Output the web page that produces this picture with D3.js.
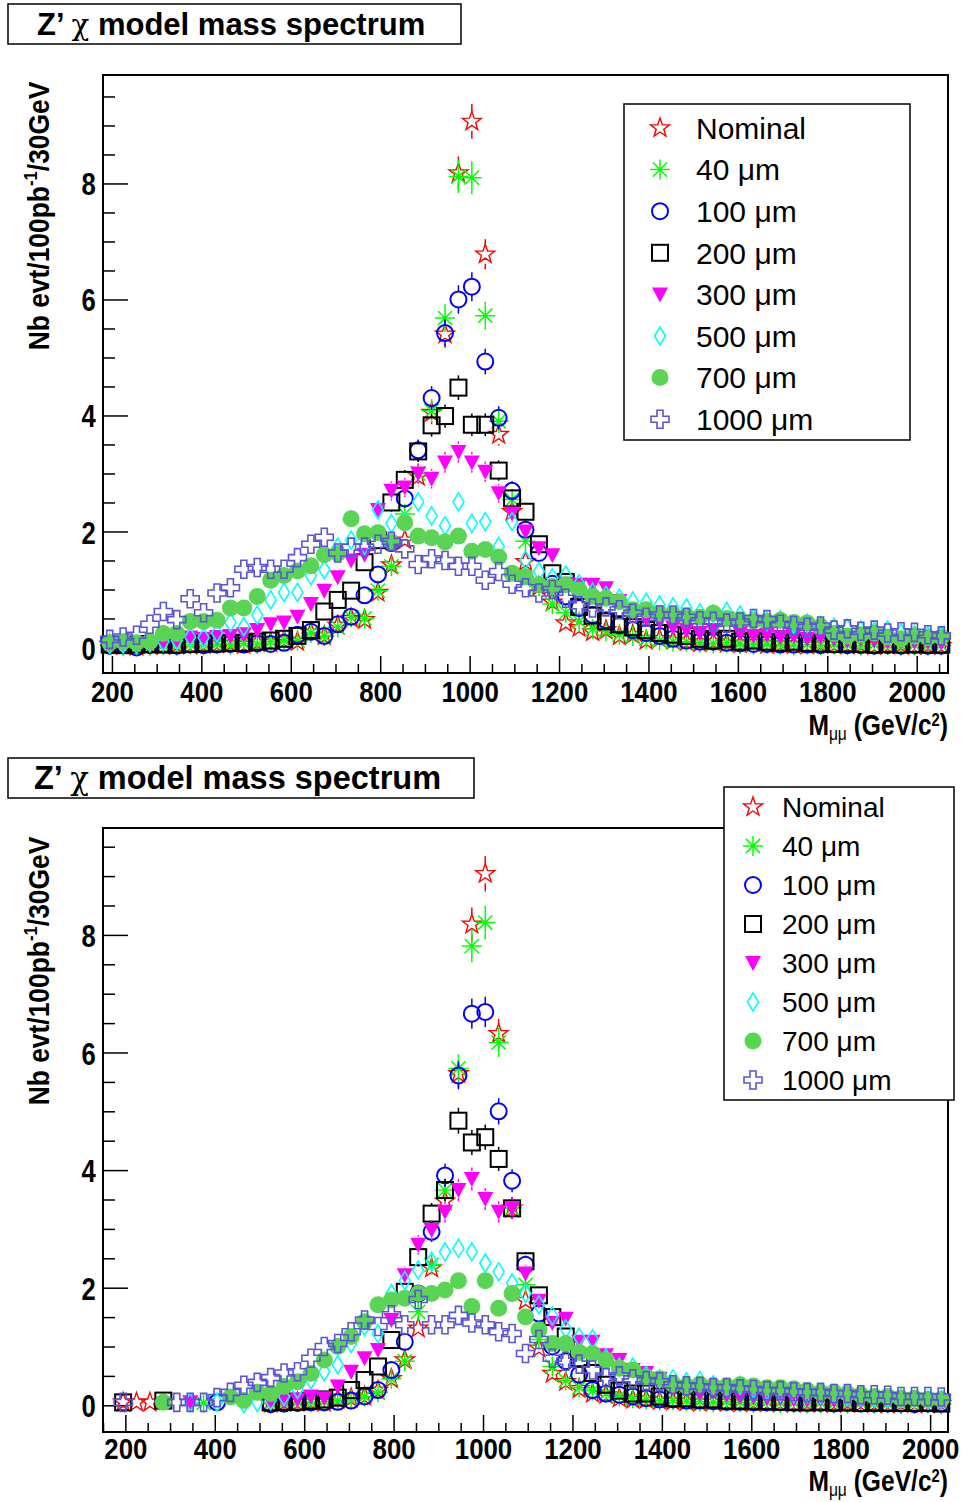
<!DOCTYPE html>
<html><head><meta charset="utf-8">
<script src="https://cdn.jsdelivr.net/npm/d3@7"></script>
<style>
body{margin:0;background:#fff;}
svg{display:block;font-family:"Liberation Sans",Arial,Helvetica,sans-serif;}
</style></head><body>
<svg id="c" width="964" height="1502"></svg>
<script>
// ---------------- DATA ----------------
const seriesNames = ["Nominal","40 \u03bcm","100 \u03bcm","200 \u03bcm","300 \u03bcm","500 \u03bcm","700 \u03bcm","1000 \u03bcm"];
const binWidth = 30;               // GeV
const topFirstBinCenter = 195;     // GeV
const bottomFirstBinCenter = 165;  // GeV
const xMajorTicks = [200,400,600,800,1000,1200,1400,1600,1800,2000];
const yMajorTicks = [0,2,4,6,8];
const eventWeight = 0.01;          // events -> Nb evt/100pb-1 (for Poisson error bars)

// Upper panel: bins of 30 GeV starting at 195 GeV
const topNominal = [0.05,0.03,0.02,0.04,0.03,0.05,0.04,0.05,0.06,0.07, 0.05,0.09,0.08,0.12,0.10,0.26,0.20,0.38,0.50,0.48, 0.95,1.42,1.85,2.95,4.05,5.40,8.18,9.07,6.78,3.67, 2.34,1.48,1.05,0.78,0.42,0.34,0.27,0.30,0.20,0.22, 0.12,0.15,0.12,0.10,0.08,0.10,0.07,0.06,0.08,0.05, 0.06,0.05,0.04,0.06,0.05,0.04,0.05,0.03,0.04,0.05, 0.03,0.04,0.03];
const top40um = [0.04,0.02,0.03,0.03,0.04,0.03,0.05,0.04,0.06,0.05, 0.07,0.06,0.10,0.12,0.12,0.25,0.20,0.35,0.52,0.50, 0.98,1.40,2.30,3.00,4.08,5.68,8.12,8.10,5.72,3.90, 2.55,1.83,1.05,0.75,0.60,0.45,0.32,0.28,0.22,0.20, 0.15,0.12,0.10,0.10,0.08,0.07,0.08,0.06,0.05,0.06, 0.05,0.04,0.05,0.04,0.05,0.04,0.03,0.05,0.04,0.03, 0.04,0.03,0.04];
const top100um = [0.03,0.05,0.00,0.04,0.05,0.03,0.05,0.04,0.05,0.06, 0.05,0.07,0.06,0.08,0.22,0.27,0.20,0.40,0.53,0.90, 1.26,1.80,2.57,3.40,4.30,5.42,6.00,6.22,4.93,3.96, 2.70,2.03,1.63,1.10,0.88,0.68,0.56,0.47,0.38,0.30, 0.25,0.20,0.15,0.12,0.10,0.10,0.08,0.07,0.06,0.06, 0.05,0.05,0.05,0.04,0.05,0.04,0.04,0.03,0.04,0.03, 0.04,0.03,0.03];
const top200um = [0.05,0.04,0.05,0.06,0.05,0.05,0.06,0.07,0.07,0.08, 0.08,0.10,0.12,0.15,0.20,0.30,0.62,0.82,0.98,1.47, 1.85,2.50,2.89,3.38,3.83,3.99,4.48,3.84,3.84,3.05, 2.57,2.34,1.78,1.28,1.13,0.70,0.55,0.45,0.40,0.35, 0.30,0.25,0.22,0.20,0.15,0.12,0.15,0.10,0.12,0.10, 0.08,0.10,0.08,0.07,0.06,0.07,0.06,0.05,0.06,0.05, 0.06,0.05,0.05];
const top300um = [0.03,0.05,0.05,0.06,0.08,0.12,0.17,0.15,0.18,0.20, 0.23,0.30,0.40,0.43,0.53,0.75,0.98,1.21,1.50,1.60, 2.37,2.70,2.76,3.00,2.91,3.19,3.37,3.19,3.03,2.66, 2.31,2.00,1.71,1.59,1.10,1.08,1.08,1.02,0.80,0.60, 0.50,0.45,0.35,0.30,0.25,0.30,0.50,0.25,0.20,0.22, 0.18,0.20,0.15,0.18,0.15,0.12,0.15,0.12,0.10,0.12, 0.10,0.10,0.08];
const top500um = [0.05,0.06,0.05,0.08,0.10,0.12,0.18,0.17,0.25,0.43, 0.36,0.56,0.82,0.95,0.95,1.24,1.34,1.73,1.85,1.76, 2.37,2.14,2.17,2.51,2.27,2.10,2.51,2.14,2.17,1.74, 2.17,1.51,1.31,1.20,1.25,1.10,0.95,0.90,0.85,0.80, 0.78,0.73,0.70,0.68,0.60,0.58,0.62,0.56,0.50,0.45, 0.48,0.40,0.42,0.38,0.35,0.33,0.30,0.28,0.30,0.25, 0.22,0.20,0.20];
const top700um = [0.08,0.10,0.08,0.10,0.24,0.24,0.45,0.45,0.47,0.68, 0.68,0.88,1.16,1.24,1.32,1.41,1.60,1.62,2.22,1.96, 1.98,1.82,2.15,1.92,1.89,1.82,1.92,1.66,1.69,1.56, 1.28,1.22,1.08,1.05,1.08,0.99,0.88,0.85,0.79,0.65, 0.65,0.59,0.57,0.54,0.52,0.59,0.50,0.48,0.46,0.45, 0.47,0.43,0.42,0.36,0.24,0.20,0.22,0.25,0.18,0.15, 0.20,0.17,0.18];
const top1000um = [0.14,0.18,0.21,0.40,0.62,0.48,0.84,0.60,0.94,1.03, 1.35,1.38,1.35,1.35,1.55,1.78,1.90,1.63,1.73,1.73, 1.78,1.83,1.70,1.43,1.53,1.50,1.40,1.40,1.16,1.31, 1.09,1.03,0.94,1.00,0.85,0.72,0.68,0.70,0.65,0.59, 0.52,0.56,0.56,0.52,0.46,0.45,0.42,0.44,0.50,0.48, 0.40,0.38,0.35,0.37,0.30,0.32,0.28,0.30,0.25,0.27, 0.26,0.22,0.20];

// Lower panel: bins of 30 GeV starting at 165 GeV (null = empty bin, not drawn)
const botNominal = [null,0.05,0.05,0.05,null,null,null,null,null,null, null,null,0.03,0.05,0.05,0.06,0.05,0.10,0.12,0.15, 0.25,0.45,0.77,1.31,2.33,3.47,5.64,8.18,9.04,6.32, 3.35,1.78,0.97,0.54,0.40,0.28,0.20,0.18,0.12,0.10, 0.10,0.08,0.07,0.06,0.05,0.06,0.05,0.04,0.05,0.04, 0.04,0.03,0.04,0.03,0.03,0.04,0.03,0.03,0.02,0.03, 0.03,0.02,0.03];
const bot40um = [null,null,null,null,null,null,null,0.04,null,null, null,null,0.03,0.04,0.05,0.05,0.06,0.08,0.10,0.15, 0.22,0.45,0.75,1.59,2.39,3.66,5.73,7.81,8.21,6.17, 3.35,2.05,1.12,0.66,0.42,0.30,0.25,0.20,0.15,0.12, 0.10,0.08,0.08,0.07,0.06,0.05,0.06,0.05,0.04,0.05, 0.04,0.04,0.03,0.04,0.03,0.03,0.04,0.03,0.03,0.02, 0.03,0.03,0.02];
const bot100um = [null,null,null,null,null,null,null,null,0.05,null, null,null,0.02,0.03,0.04,0.05,0.05,0.06,0.08,0.15, 0.26,0.60,1.08,1.90,2.95,3.91,5.61,6.66,6.69,5.00, 3.82,2.39,1.56,1.00,0.75,0.52,0.26,0.20,0.18,0.15, 0.12,0.10,0.10,0.08,0.08,0.07,0.06,0.06,0.05,0.05, 0.05,0.04,0.04,0.04,0.03,0.04,0.03,0.03,0.03,0.03, 0.02,0.03,0.03];
const bot200um = [null,0.05,null,null,0.08,null,null,null,null,null, null,null,0.05,0.06,0.06,0.08,0.10,0.13,0.26,0.43, 0.66,1.11,1.93,2.52,3.26,3.66,4.84,4.47,4.56,4.19, 3.35,2.45,1.87,1.50,1.17,0.80,0.55,0.35,0.25,0.20, 0.20,0.15,0.12,0.12,0.10,0.10,0.08,0.08,0.07,0.07, 0.06,0.06,0.05,0.06,0.05,0.05,0.04,0.05,0.04,0.04, 0.04,0.04,0.03];
const bot300um = [null,null,null,null,null,null,0.05,null,null,null, null,null,0.05,0.07,0.10,0.15,0.12,0.32,0.57,0.80, 0.94,1.45,2.21,2.73,2.98,3.29,3.66,3.85,3.51,3.29, 3.35,2.24,1.78,1.40,1.47,1.08,1.08,0.85,0.77,0.60, 0.55,0.45,0.30,0.28,0.20,0.22,0.18,0.15,0.15,0.12, 0.12,0.10,0.10,0.10,0.08,0.08,0.07,0.07,0.06,0.06, 0.05,0.05,0.05];
const bot500um = [null,null,null,null,null,null,0.05,null,0.05,null, 0.03,0.05,0.08,0.15,0.27,0.43,0.57,0.69,1.05,1.34, 1.22,1.90,2.12,2.30,2.45,2.61,2.67,2.61,2.42,2.27, 2.08,1.90,1.71,1.52,1.30,1.16,1.13,0.80,0.65,0.65, 0.51,0.45,0.45,0.40,0.42,0.35,0.30,0.34,0.28,0.25, 0.22,0.20,0.20,0.18,0.20,0.15,0.15,0.13,0.12,0.12, 0.10,0.10,0.10];
const bot700um = [null,null,null,null,0.05,null,null,null,null,0.14, 0.08,0.22,0.20,0.32,0.40,0.54,0.77,1.00,1.17,1.42, 1.71,1.79,1.82,1.90,1.90,1.96,2.12,1.68,2.12,1.65, 1.90,1.50,1.28,1.05,1.05,0.90,0.88,0.77,0.63,0.60, 0.48,0.45,0.36,0.33,0.36,0.33,0.33,0.35,0.33,0.30, 0.30,0.28,0.25,0.22,0.22,0.20,0.18,0.15,0.15,0.12, 0.12,0.10,0.10];
const bot1000um = [null,0.05,null,null,null,0.05,0.05,0.05,0.13,0.22, 0.34,0.39,0.47,0.55,0.57,0.80,1.00,1.05,1.25,1.45, 1.34,1.54,1.37,1.80,1.37,1.37,1.53,1.40,1.37,1.25, 1.22,0.88,1.12,0.80,0.75,0.70,0.60,0.47,0.50,0.45, 0.42,0.40,0.35,0.33,0.32,0.30,0.30,0.28,0.27,0.25, 0.25,0.23,0.22,0.22,0.20,0.20,0.18,0.18,0.17,0.15, 0.15,0.15,0.14];

const topSeries = [topNominal,top40um,top100um,top200um,top300um,top500um,top700um,top1000um];
const botSeries = [botNominal,bot40um,bot100um,bot200um,bot300um,bot500um,bot700um,bot1000um];

// ---------------- STYLE ----------------
const seriesColors = ["#ff0000","#00ff00","#0000ff","#000000","#ff00ff","#00ffff","#59d454","#5954d8"];
const seriesMarkers = ["openStar","asterisk","openCircle","openSquare","triangleDown","openDiamond","filledCircle","openCross"];
const markerHalf = {openStar:9.5,asterisk:10,openCircle:8,openSquare:8,triangleDown:8,openDiamond:9,filledCircle:8.5,openCross:9};

const panels = [
  {series: topSeries, first: topFirstBinCenter,
   frame:{x0:103,x1:948,y0:75,y1:673}, xDom:[180,2070], yDom:[-0.44,9.87],
   title:{x:8,y:4,w:453,h:40,tx:37,ty:35,fs:31},
   legend:{x:624,y:104,w:286,h:336,mx:660,tx:696,ry0:128,dy:41.6,fs:30},
   ylab:{x:49,y:216}, xlab:{x:948,y:735}, tickY:29},
  {series: botSeries, first: bottomFirstBinCenter,
   frame:{x0:103,x1:948,y0:828,y1:1432}, xDom:[150,2040], yDom:[-0.454,9.818],
   title:{x:8,y:758,w:466,h:40,tx:34,ty:789,fs:32.5},
   legend:{x:724,y:787,w:230,h:313,mx:753,tx:782,ry0:807,dy:39,fs:28},
   ylab:{x:49,y:971}, xlab:{x:948,y:1491}, tickY:27}
];

function starPath(R, r){
  const p=[];
  for(let k=0;k<10;k++){
    const a=-Math.PI/2 + k*Math.PI/5, rad = k%2===0?R:r;
    p.push((rad*Math.cos(a)).toFixed(2)+','+(rad*Math.sin(a)).toFixed(2));
  }
  return 'M'+p.join('L')+'Z';
}
function drawMarker(sel, type, color){
  switch(type){
    case 'openStar': sel.append('path').attr('d', starPath(10,4)).attr('fill','none').attr('stroke',color).attr('stroke-width',1.4); break;
    case 'asterisk': { const L=10, D=7.1; sel.append('path').attr('d',`M0,${-L}V${L}M${-L},0H${L}M${-D},${-D}L${D},${D}M${-D},${D}L${D},${-D}`).attr('stroke',color).attr('stroke-width',1.5).attr('fill','none'); break; }
    case 'openCircle': sel.append('circle').attr('r',8).attr('fill','none').attr('stroke',color).attr('stroke-width',2); break;
    case 'openSquare': sel.append('rect').attr('x',-8).attr('y',-8).attr('width',16).attr('height',16).attr('fill','none').attr('stroke',color).attr('stroke-width',2); break;
    case 'triangleDown': sel.append('path').attr('d','M-8,-7L8,-7L0,8Z').attr('fill',color); break;
    case 'openDiamond': sel.append('path').attr('d','M0,-9L5.5,0L0,9L-5.5,0Z').attr('fill','none').attr('stroke',color).attr('stroke-width',1.6); break;
    case 'filledCircle': sel.append('circle').attr('r',8.5).attr('fill',color); break;
    case 'openCross': { const a=3,b=9; sel.append('path').attr('d',`M${-a},${-b}H${a}V${-a}H${b}V${a}H${a}V${b}H${-a}V${a}H${-b}V${-a}H${-a}Z`).attr('fill','none').attr('stroke',color).attr('stroke-width',1.6); break; }
  }
}

const svg = d3.select('#c');
svg.append('rect').attr('width',964).attr('height',1502).attr('fill','#fff');

panels.forEach(p => {
  const f = p.frame;
  const x = d3.scaleLinear().domain(p.xDom).range([f.x0,f.x1]);
  const y = d3.scaleLinear().domain(p.yDom).range([f.y1,f.y0]);
  const g = svg.append('g');

  // title box
  g.append('rect').attr('x',p.title.x).attr('y',p.title.y).attr('width',p.title.w).attr('height',p.title.h)
    .attr('fill','#fff').attr('stroke','#000').attr('stroke-width',1.5);
  const tt = g.append('text').attr('x',p.title.tx).attr('y',p.title.ty).attr('font-size',p.title.fs).attr('font-weight','bold').attr('fill','#000');
  tt.append('tspan').text('Z\u2019 ');
  tt.append('tspan').attr('font-weight','normal').attr('font-family','"DejaVu Serif","Liberation Serif",serif').attr('font-size',p.title.fs*0.95).text('\u03c7');
  tt.append('tspan').text(' model mass spectrum');

  // axes (ticks inside frame)
  const xMinor = d3.range(Math.ceil(p.xDom[0]/50)*50, p.xDom[1], 50).filter(v=>v%200!==0);
  const yMinor = d3.range(0, p.yDom[1], 0.5).filter(v=>v%2!==0);
  const axX = g.append('g').attr('transform',`translate(0,${f.y1})`)
    .call(d3.axisBottom(x).tickValues(xMajorTicks).tickSize(-17).tickFormat(d3.format('d')));
  g.append('g').attr('transform',`translate(0,${f.y1})`)
    .call(d3.axisBottom(x).tickValues(xMinor).tickSize(-9).tickFormat(''));
  const axY = g.append('g').attr('transform',`translate(${f.x0},0)`)
    .call(d3.axisLeft(y).tickValues(yMajorTicks).tickSize(-25).tickFormat(d3.format('d')));
  g.append('g').attr('transform',`translate(${f.x0},0)`)
    .call(d3.axisLeft(y).tickValues(yMinor).tickSize(-12).tickFormat(''));
  g.selectAll('.domain').remove();
  g.selectAll('.tick line').attr('stroke','#000').attr('stroke-width',1.5);
  axX.selectAll('text').attr('y',p.tickY).attr('dy',0).attr('font-size',30).attr('font-weight','bold')
    .attr('font-family','"Liberation Sans",Arial,sans-serif').attr('fill','#000')
    .attr('transform','scale(0.86,1)');
  axY.selectAll('text').attr('x',-9).attr('dy','0.36em').attr('font-size',32).attr('font-weight','bold')
    .attr('font-family','"Liberation Sans",Arial,sans-serif').attr('fill','#000')
    .attr('transform','scale(0.8,1)');

  // frame
  g.append('rect').attr('x',f.x0).attr('y',f.y0).attr('width',f.x1-f.x0).attr('height',f.y1-f.y0)
    .attr('fill','none').attr('stroke','#000').attr('stroke-width',2);

  // axis titles
  const yl = g.append('g').attr('transform',`translate(${p.ylab.x},${p.ylab.y}) rotate(-90) scale(0.88,1)`);
  const ylt = yl.append('text').attr('text-anchor','middle').attr('font-size',30).attr('font-weight','bold').attr('fill','#000');
  ylt.append('tspan').text('Nb evt/100pb');
  ylt.append('tspan').attr('font-size',19).attr('dy',-12).text('-1');
  ylt.append('tspan').attr('dy',12).text('/30GeV');

  const xl = g.append('g').attr('transform',`translate(${p.xlab.x},${p.xlab.y}) scale(0.82,1)`);
  const xlt = xl.append('text').attr('text-anchor','end').attr('font-size',30).attr('font-weight','bold').attr('fill','#000');
  xlt.append('tspan').text('M');
  xlt.append('tspan').attr('font-size',19).attr('font-weight','normal').attr('dy',5).text('\u03bc\u03bc');
  xlt.append('tspan').attr('dy',-5).text(' (GeV/c');
  xlt.append('tspan').attr('font-size',18).attr('dy',-9).text('2');
  xlt.append('tspan').attr('dy',9).text(')');

  // data
  const plot = g.append('g');
  p.series.forEach((vals, si) => {
    const color = seriesColors[si], type = seriesMarkers[si], half = markerHalf[type];
    const pts = vals.map((v,i)=>({m: p.first + i*binWidth, v})).filter(d=>d.v!==null);
    const sg = plot.append('g');
    pts.forEach(d => {
      const cx = x(d.m), cy = y(d.v);
      const e = Math.sqrt(d.v*eventWeight);
      const yHi = y(d.v+e), yLo = y(d.v-e);
      if (cy - yHi > half) {
        sg.append('line').attr('x1',cx).attr('x2',cx).attr('y1',yHi).attr('y2',cy-half).attr('stroke',color).attr('stroke-width',1.5);
        sg.append('line').attr('x1',cx).attr('x2',cx).attr('y1',cy+half).attr('y2',yLo).attr('stroke',color).attr('stroke-width',1.5);
      }
      drawMarker(sg.append('g').attr('transform',`translate(${cx},${cy})`), type, color);
    });
  });

  // legend
  const L = p.legend;
  const lg = g.append('g');
  lg.append('rect').attr('x',L.x).attr('y',L.y).attr('width',L.w).attr('height',L.h).attr('fill','#fff').attr('stroke','#000').attr('stroke-width',1.5);
  seriesNames.forEach((name, si) => {
    const ry = L.ry0 + si*L.dy;
    drawMarker(lg.append('g').attr('transform',`translate(${L.mx},${ry})`), seriesMarkers[si], seriesColors[si]);
    lg.append('text').attr('x',L.tx).attr('y',ry).attr('dy','0.36em').attr('font-size',L.fs).attr('fill','#000').text(name);
  });
});
</script>
</body></html>
